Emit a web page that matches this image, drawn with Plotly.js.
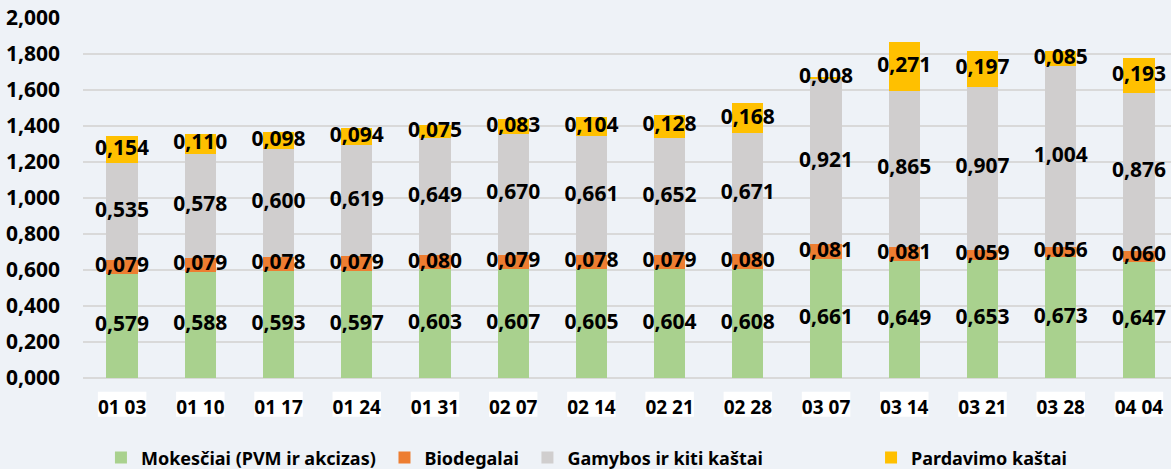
<!DOCTYPE html>
<html>
<head>
<meta charset="utf-8">
<script src="https://cdn.plot.ly/plotly-3.0.1.min.js"></script>
<style>html,body{margin:0;padding:0;background:#eef2f7;}</style>
</head>
<body>
<div id="chart" style="width:1171px;height:469px;"></div>
<script>
const categories = ["01 03","01 10","01 17","01 24","01 31","02 07","02 14","02 21","02 28","03 07","03 14","03 21","03 28","04 04"];
const mokesciai = [0.579,0.588,0.593,0.597,0.603,0.607,0.605,0.604,0.608,0.661,0.649,0.653,0.673,0.647];
const biodegalai = [0.079,0.079,0.078,0.079,0.080,0.079,0.078,0.079,0.080,0.081,0.081,0.059,0.056,0.060];
const gamybos = [0.535,0.578,0.600,0.619,0.649,0.670,0.661,0.652,0.671,0.921,0.865,0.907,1.004,0.876];
const pardavimo = [0.154,0.110,0.098,0.094,0.075,0.083,0.104,0.128,0.168,0.008,0.271,0.197,0.085,0.193];

const seriesNames = ["Mokesčiai (PVM ir akcizas)","Biodegalai","Gamybos ir kiti kaštai","Pardavimo kaštai"];
const seriesColors = ["#a9d18e","#ed7d31","#d0cece","#ffc000"];
const seriesValues = [mokesciai, biodegalai, gamybos, pardavimo];
const legendIds = ["legend","legend2","legend3","legend4"];

const FONT = "Noto Sans, sans-serif";
const traces = [];
seriesValues.forEach((vals, s) => {
  traces.push({
    type: "bar", x: categories, y: vals, name: seriesNames[s],
    marker: {color: seriesColors[s], line: {width: 0}},
    width: 0.4, hoverinfo: "skip", legend: legendIds[s]
  });
});
// labels at segment centres
const base = categories.map(() => 0);
seriesValues.forEach((vals, s) => {
  const mids = vals.map((v, i) => base[i] + v / 2);
  vals.forEach((v, i) => base[i] += v);
  traces.push({
    type: "scatter", mode: "text", x: categories, y: mids, customdata: vals,
    texttemplate: "%{customdata:.3f}", textposition: "middle center",
    textfont: {family: FONT, size: 21, color: "#000000", weight: "bold"},
    showlegend: false, hoverinfo: "skip", cliponaxis: false
  });
});

const shapes = categories.map((c, i) => ({
  type: "rect", xref: "x", yref: "paper", layer: "below",
  x0: i - 0.31, x1: i + 0.31, y0: -0.038, y1: -0.1075,
  fillcolor: "#ffffff", line: {width: 0}
}));

const legendX = [0.0165, 0.2771, 0.4085, 0.7243];
const layout = {
  width: 1171, height: 469,
  margin: {l: 83, r: 0, t: 18, b: 91, autoexpand: false},
  paper_bgcolor: "#eef2f7", plot_bgcolor: "#eef2f7",
  separators: ",.",
  barmode: "stack",
  showlegend: true,
  xaxis: {
    type: "category", categoryorder: "array", categoryarray: categories,
    range: [-0.5, 13.41], showgrid: false, showline: false, zeroline: false, ticks: "",
    ticklabelstandoff: 16, automargin: false,
    tickfont: {family: FONT, size: 19, color: "#000000", weight: "bold"}
  },
  yaxis: {
    range: [0, 2], dtick: 0.2, tick0: 0, tickformat: ".3f",
    showgrid: true, gridcolor: "#d9d9d9", gridwidth: 2,
    zeroline: true, zerolinecolor: "#d9d9d9", zerolinewidth: 2,
    showline: false, ticks: "", ticklabelstandoff: 22, automargin: false,
    tickfont: {family: FONT, size: 21, color: "#000000", weight: "bold"}
  },
  shapes: shapes
};
legendIds.forEach((id, s) => {
  layout[id] = {
    orientation: "h", x: legendX[s], xanchor: "left", y: -0.222, yanchor: "middle",
    bgcolor: "rgba(0,0,0,0)", borderwidth: 0,
    font: {family: FONT, size: 18, color: "#000000", weight: "bold"}
  };
});

Plotly.newPlot("chart", traces, layout, {displayModeBar: false, staticPlot: true});
</script>
</body>
</html>
